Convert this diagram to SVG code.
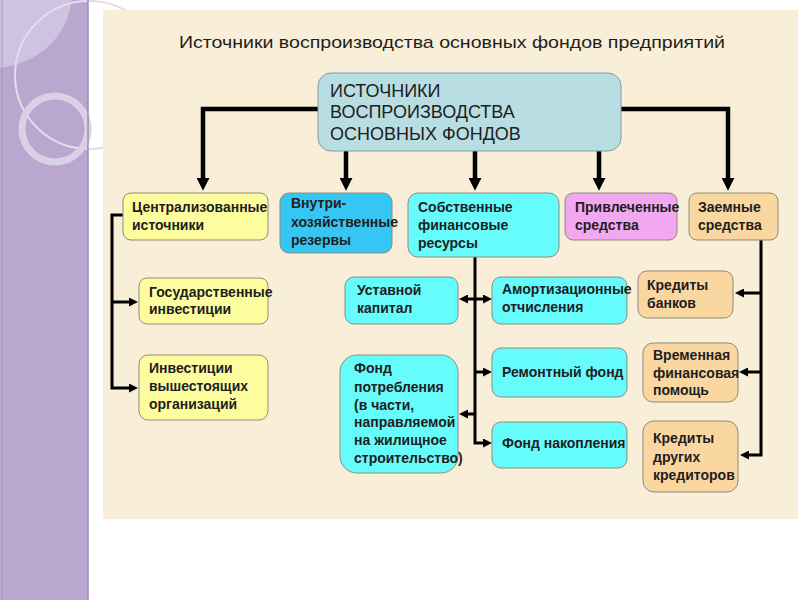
<svg xmlns="http://www.w3.org/2000/svg" width="800" height="600" viewBox="0 0 800 600">
<defs>
<style>
.t{font-family:"Liberation Sans",Arial,sans-serif;font-weight:bold;font-size:14px;fill:#1e1e1e}
.m{font-family:"Liberation Sans",Arial,sans-serif;font-size:18px;fill:#1e1e1e}
.b{stroke:#8c8c7c;stroke-width:1}
.y{fill:#fdfd9e}
.c{fill:#66fcfc}
.d{fill:#36c6f4}
.v{fill:#f1a8f1}
.p{fill:#fad6a0}
.big{fill:none;stroke:#000;stroke-width:4.5}
.sm{fill:none;stroke:#000;stroke-width:3}
</style>
<marker id="ab" viewBox="0 0 12 12" markerWidth="13" markerHeight="13" refX="2" refY="6" markerUnits="userSpaceOnUse" orient="auto"><path d="M0,0 L12,6 L0,12 z" fill="#000"/></marker>
<marker id="as" viewBox="0 0 9 9" markerWidth="9" markerHeight="9" refX="2" refY="4.5" markerUnits="userSpaceOnUse" orient="auto"><path d="M0,0 L9,4.5 L0,9 z" fill="#000"/></marker>
</defs>
<rect x="0" y="0" width="800" height="600" fill="#ffffff"/>
<g id="panel">
<rect x="0" y="0" width="88" height="600" fill="#b9a7cf"/>
<path d="M0,0 H72 Q62,58 0,68 Z" fill="#cec3e0"/>
<circle cx="89" cy="75" r="74" fill="none" stroke="#e4dcef" stroke-width="2"/>
<circle cx="55" cy="129" r="33" fill="none" stroke="#d9d1e6" stroke-width="7"/>
<line x1="2" y1="0" x2="2" y2="600" stroke="#a797bd" stroke-width="1"/>
<line x1="88" y1="0" x2="88" y2="600" stroke="#9c8bb4" stroke-width="1.5"/>
</g>
<rect x="103" y="10" width="695" height="509" fill="#f9eed7"/>
<text x="179" y="48" font-family="Liberation Sans,Arial,sans-serif" font-size="17" fill="#1e1e1e" textLength="546" lengthAdjust="spacingAndGlyphs">Источники воспроизводства основных фондов предприятий</text>
<g id="connectors">
<path class="big" d="M318,109 H203 V180" marker-end="url(#ab)"/>
<path class="big" d="M621,109 H728 V180" marker-end="url(#ab)"/>
<path class="big" d="M346,151 V180" marker-end="url(#ab)"/>
<path class="big" d="M475,151 V180" marker-end="url(#ab)"/>
<path class="big" d="M599,151 V180" marker-end="url(#ab)"/>
<path class="sm" d="M123,215 H112 V388 H131" marker-end="url(#as)"/>
<path class="sm" d="M112,302 H131" marker-end="url(#as)"/>
<path class="sm" d="M475,257 V443 H485" marker-end="url(#as)"/>
<path class="sm" d="M475,299 H485" marker-end="url(#as)"/>
<path class="sm" d="M475,299 H466" marker-end="url(#as)"/>
<path class="sm" d="M475,372 H485" marker-end="url(#as)"/>
<path class="sm" d="M475,414 H466" marker-end="url(#as)"/>
<path class="sm" d="M761,240 V455 H747" marker-end="url(#as)"/>
<path class="sm" d="M761,293 H742" marker-end="url(#as)"/>
<path class="sm" d="M761,372 H746" marker-end="url(#as)"/>
</g>
<g id="root">
<rect x="318" y="73" width="303" height="78" rx="13" fill="#b8dde3" stroke="#7f9ea4" stroke-width="1"/>
<text class="m" x="330" y="97">ИСТОЧНИКИ</text>
<text class="m" x="330" y="118">ВОСПРОИЗВОДСТВА</text>
<text class="m" x="330" y="140">ОСНОВНЫХ ФОНДОВ</text>
</g>
<g id="centr">
<rect class="b y" x="123" y="193" width="145" height="47" rx="8"/>
<text class="t" x="132" y="212">Централизованные</text>
<text class="t" x="132" y="230">источники</text>
</g>
<g id="vnutri">
<rect class="b d" x="280" y="193" width="112" height="60" rx="9"/>
<text class="t" x="291" y="208">Внутри-</text>
<text class="t" x="291" y="227">хозяйственные</text>
<text class="t" x="291" y="245">резервы</text>
</g>
<g id="sobstv">
<rect class="b c" x="408" y="193" width="151" height="64" rx="10"/>
<text class="t" x="418" y="212">Собственные</text>
<text class="t" x="418" y="230">финансовые</text>
<text class="t" x="418" y="248">ресурсы</text>
</g>
<g id="privl">
<rect class="b v" x="565" y="193" width="112" height="47" rx="8"/>
<text class="t" x="575" y="212">Привлеченные</text>
<text class="t" x="575" y="230">средства</text>
</g>
<g id="zaem">
<rect class="b p" x="689" y="193" width="89" height="47" rx="8"/>
<text class="t" x="698" y="212">Заемные</text>
<text class="t" x="698" y="230">средства</text>
</g>
<g id="gos">
<rect class="b y" x="139" y="278" width="129" height="46" rx="8"/>
<text class="t" x="149" y="297">Государственные</text>
<text class="t" x="149" y="314">инвестиции</text>
</g>
<g id="vysh">
<rect class="b y" x="139" y="355" width="129" height="65" rx="9"/>
<text class="t" x="149" y="373">Инвестиции</text>
<text class="t" x="149" y="391">вышестоящих</text>
<text class="t" x="149" y="409">организаций</text>
</g>
<g id="ustav">
<rect class="b c" x="345" y="277" width="113" height="47" rx="9"/>
<text class="t" x="357" y="295">Уставной</text>
<text class="t" x="357" y="313">капитал</text>
</g>
<g id="amort">
<rect class="b c" x="492" y="277" width="135" height="47" rx="9"/>
<text class="t" x="502" y="294">Амортизационные</text>
<text class="t" x="502" y="312">отчисления</text>
</g>
<g id="remont">
<rect class="b c" x="492" y="348" width="135" height="49" rx="9"/>
<text class="t" x="502" y="377">Ремонтный фонд</text>
</g>
<g id="potr">
<rect class="b c" x="340" y="355" width="118" height="118" rx="17"/>
<text class="t" x="354" y="373">Фонд</text>
<text class="t" x="354" y="392">потребления</text>
<text class="t" x="354" y="410">(в части,</text>
<text class="t" x="354" y="427">направляемой</text>
<text class="t" x="354" y="445">на жилищное</text>
<text class="t" x="354" y="463">строительство)</text>
</g>
<g id="nakopl">
<rect class="b c" x="492" y="422" width="135" height="46" rx="9"/>
<text class="t" x="502" y="448">Фонд накопления</text>
</g>
<g id="bank">
<rect class="b p" x="638" y="271" width="95" height="47" rx="9"/>
<text class="t" x="647" y="290">Кредиты</text>
<text class="t" x="647" y="308">банков</text>
</g>
<g id="vremen">
<rect class="b p" x="643" y="343" width="95" height="59" rx="10"/>
<text class="t" x="653" y="360">Временная</text>
<text class="t" x="653" y="378">финансовая</text>
<text class="t" x="653" y="395">помощь</text>
</g>
<g id="drugie">
<rect class="b p" x="643" y="421" width="95" height="71" rx="11"/>
<text class="t" x="653" y="443">Кредиты</text>
<text class="t" x="653" y="462">других</text>
<text class="t" x="653" y="480">кредиторов</text>
</g>
</svg>
